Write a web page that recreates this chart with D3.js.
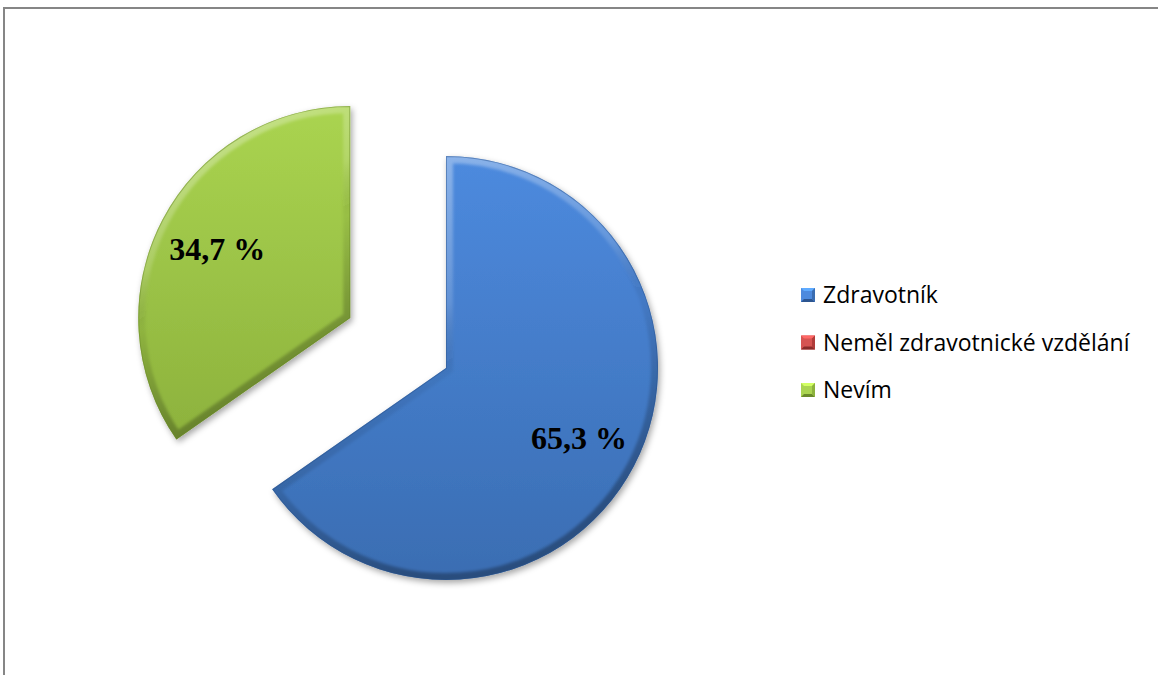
<!DOCTYPE html>
<html>
<head>
<meta charset="utf-8">
<script src="https://cdn.jsdelivr.net/npm/d3@7"></script>
<style>
  html, body { margin: 0; padding: 0; background: #fff; }
  svg { display: block; }
</style>
</head>
<body>
<svg id="chart" width="1158" height="675"></svg>
<script>
// Answer categories and their shares (%)
const categories = ["Zdravotník", "Neměl zdravotnické vzdělání", "Nevím"];
const shares = [65.3, 0, 34.7];
const labels = ["65,3 %", "0,0 %", "34,7 %"];
// How far each slice is pulled out of the pie (px)
const explode = [0, 0, 108];

const palette = [
  { top: "#4d8ade", bottom: "#3a6db2", dark: "#2c5590" },
  { top: "#d65452", bottom: "#b03c3a", dark: "#8a2c2a" },
  { top: "#aad450", bottom: "#8db23d", dark: "#6a8a2a" }
];

const svg = d3.select("#chart");
const defs = svg.append("defs");

// frame around the chart area
svg.append("path")
  .attr("d", "M4,675 L4,8 L1158,8")
  .attr("fill", "none")
  .attr("stroke", "#868686")
  .attr("stroke-width", 2);

const cx = 446, cy = 368, radius = 212;

// drop shadow
const shadow = defs.append("filter").attr("id", "shadow")
  .attr("x", "-20%").attr("y", "-20%").attr("width", "140%").attr("height", "140%");
shadow.append("feDropShadow")
  .attr("dx", 2).attr("dy", 3).attr("stdDeviation", 3)
  .attr("flood-color", "#000").attr("flood-opacity", 0.35);

const soft = defs.append("filter").attr("id", "soft");
soft.append("feGaussianBlur").attr("stdDeviation", 1.6);

palette.forEach((c, i) => {
  const g = defs.append("linearGradient").attr("id", "fill" + i)
    .attr("x1", 0).attr("y1", 0).attr("x2", 0).attr("y2", 1);
  g.append("stop").attr("offset", "0%").attr("stop-color", c.top);
  g.append("stop").attr("offset", "100%").attr("stop-color", c.bottom);
});
// bevel light: bright on upper edges, dark on lower edges
const bevel = defs.append("linearGradient").attr("id", "bevel")
  .attr("x1", 0).attr("y1", 0).attr("x2", 0.35).attr("y2", 1);
bevel.append("stop").attr("offset", "0%").attr("stop-color", "#fff").attr("stop-opacity", 0.45);
bevel.append("stop").attr("offset", "45%").attr("stop-color", "#fff").attr("stop-opacity", 0.15);
bevel.append("stop").attr("offset", "60%").attr("stop-color", "#000").attr("stop-opacity", 0.05);
bevel.append("stop").attr("offset", "100%").attr("stop-color", "#000").attr("stop-opacity", 0.3);

const pie = d3.pie().sort(null).value(d => d);
const arcs = pie(shares);
const arc = d3.arc().innerRadius(0).outerRadius(radius);
const labelArc = d3.arc().innerRadius(150).outerRadius(150);

const root = svg.append("g").attr("transform", `translate(${cx},${cy})`);

arcs.forEach((a, i) => {
  if (a.endAngle - a.startAngle <= 0) return;
  const mid = (a.startAngle + a.endAngle) / 2;
  const ox = Math.sin(mid) * explode[i], oy = -Math.cos(mid) * explode[i];
  const g = root.append("g").attr("transform", `translate(${ox},${oy})`);
  const d = arc(a);

  defs.append("clipPath").attr("id", "clip" + i).append("path").attr("d", d)
    .attr("transform", `translate(${cx + ox},${cy + oy})`);

  g.append("path").attr("d", d)
    .attr("fill", `url(#fill${i})`)
    .attr("filter", "url(#shadow)");

  // bevelled edge
  const edge = svg.append("g").attr("clip-path", `url(#clip${i})`);
  edge.append("path").attr("d", d)
    .attr("transform", `translate(${cx + ox},${cy + oy})`)
    .attr("fill", "none")
    .attr("stroke", "url(#bevel)")
    .attr("stroke-width", 14)
    .attr("stroke-linejoin", "miter")
    .attr("filter", "url(#soft)");
  edge.append("path").attr("d", d)
    .attr("transform", `translate(${cx + ox},${cy + oy})`)
    .attr("fill", "none")
    .attr("stroke", palette[i].dark)
    .attr("stroke-opacity", 0.5)
    .attr("stroke-width", 2);

  const [lx, ly] = labelArc.centroid(a);
  svg.append("text")
    .attr("x", cx + ox + lx)
    .attr("y", cy + oy + ly)
    .attr("dy", "0.35em")
    .attr("text-anchor", "middle")
    .attr("font-family", "'Liberation Serif', 'Times New Roman', serif")
    .attr("font-weight", "bold")
    .attr("font-size", 32)
    .attr("fill", "#000")
    .text(labels[i]);
});

// legend
const legend = svg.append("g").attr("transform", "translate(801,295)");
categories.forEach((name, i) => {
  const row = legend.append("g").attr("transform", `translate(0,${i * 47.5})`);
  const s = 14, h = s / 2, c = palette[i];
  const sq = row.append("g").attr("transform", `translate(0,${-h})`);
  sq.append("rect").attr("width", s).attr("height", s).attr("fill", c.top);
  sq.append("path").attr("d", `M0,0 L${s},0 L${h},${h} Z`).attr("fill", d3.color(c.top).brighter(0.6));
  sq.append("path").attr("d", `M0,${s} L${s},${s} L${h},${h} Z`).attr("fill", c.dark);
  sq.append("path").attr("d", `M${s},0 L${s},${s} L${h},${h} Z`).attr("fill", c.bottom);
  sq.append("rect").attr("x", 3).attr("y", 3).attr("width", s - 6).attr("height", s - 6).attr("fill", c.top);
  row.append("text")
    .attr("x", 22)
    .attr("y", 0)
    .attr("dy", "0.35em")
    .attr("font-family", "'Open Sans', 'Noto Sans', sans-serif")
    .attr("font-size", 23)
    .attr("fill", "#000")
    .text(name);
});
</script>
</body>
</html>
